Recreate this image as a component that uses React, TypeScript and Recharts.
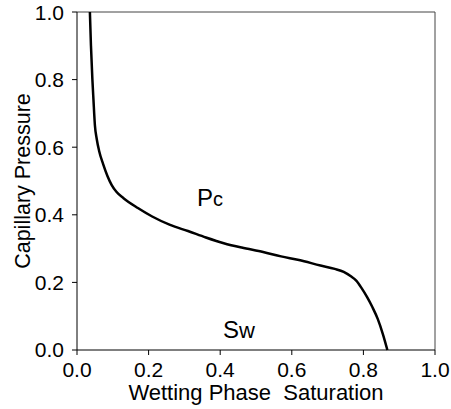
import { LineChart, Line, XAxis, YAxis, ReferenceDot, ReferenceLine } from "recharts";

const saturation = [
  0.036, 0.039, 0.043, 0.046, 0.05, 0.055, 0.062, 0.073, 0.085, 0.097, 0.11,
  0.13, 0.17, 0.21, 0.26, 0.31, 0.36, 0.41, 0.46, 0.52, 0.57, 0.62, 0.68,
  0.72, 0.745, 0.765, 0.78, 0.795, 0.81, 0.825, 0.84, 0.855, 0.867,
];
const pressure = [
  1.0, 0.9, 0.8, 0.74, 0.665, 0.625, 0.588, 0.55, 0.515, 0.488, 0.468, 0.449,
  0.42, 0.395, 0.37, 0.352, 0.333, 0.316, 0.303, 0.29, 0.277, 0.266, 0.25,
  0.24, 0.231, 0.218, 0.205, 0.183, 0.157, 0.127, 0.092, 0.045, 0.0,
];
const ticks = [0, 0.2, 0.4, 0.6, 0.8, 1.0];

const data = saturation.map((sw, i) => ({ sw, pc: pressure[i] }));

const font = "'Liberation Sans', Arial, sans-serif";
const tickStyle = { fontSize: 21, fill: "#000", fontFamily: font };

// curve labels placed at data coordinates
function annot(main: string, sub: string, subSize: number) {
  return (props: any) => (
    <text x={props.cx} y={props.cy} fontFamily={font} fill="#000">
      <tspan fontSize={24}>{main}</tspan>
      <tspan fontSize={subSize}>{sub}</tspan>
    </text>
  );
}

export default function App() {
  return (
    <div style={{ position: "absolute", left: 0, top: 0, background: "#fff" }}>
      <LineChart
        width={451}
        height={409}
        data={data}
        margin={{ top: 12, right: 16, left: 0, bottom: 0 }}
      >
        <XAxis
          dataKey="sw"
          type="number"
          domain={[0, 1]}
          ticks={ticks}
          tickFormatter={(v: number) => v.toFixed(1)}
          height={59}
          stroke="#000"
          tickSize={5}
          tickMargin={7}
          tick={tickStyle}
          label={{
            value: "Wetting Phase\u00A0 Saturation",
            position: "insideBottom",
            offset: 9,
            style: { fontSize: 22, fill: "#000", fontFamily: font },
          }}
        />
        <YAxis
          type="number"
          domain={[0, 1]}
          ticks={ticks}
          tickFormatter={(v: number) => v.toFixed(1)}
          width={77}
          stroke="#000"
          tickSize={5}
          tickMargin={8}
          tick={tickStyle}
          label={{
            value: "Capillary Pressure",
            angle: -90,
            position: "insideLeft",
            offset: 22,
            style: { fontSize: 21.5, fill: "#000", fontFamily: font, textAnchor: "middle" },
          }}
        />
        <ReferenceLine y={1} stroke="#444" />
        <ReferenceLine x={1} stroke="#444" />
        <Line
          dataKey="pc"
          type="monotone"
          stroke="#000"
          strokeWidth={2.5}
          dot={false}
          isAnimationActive={false}
        />
        <ReferenceDot x={0.335} y={0.426} r={0} shape={annot("P", "c", 20)} />
        <ReferenceDot x={0.408} y={0.036} r={0} shape={annot("S", "w", 22)} />
      </LineChart>
    </div>
  );
}
